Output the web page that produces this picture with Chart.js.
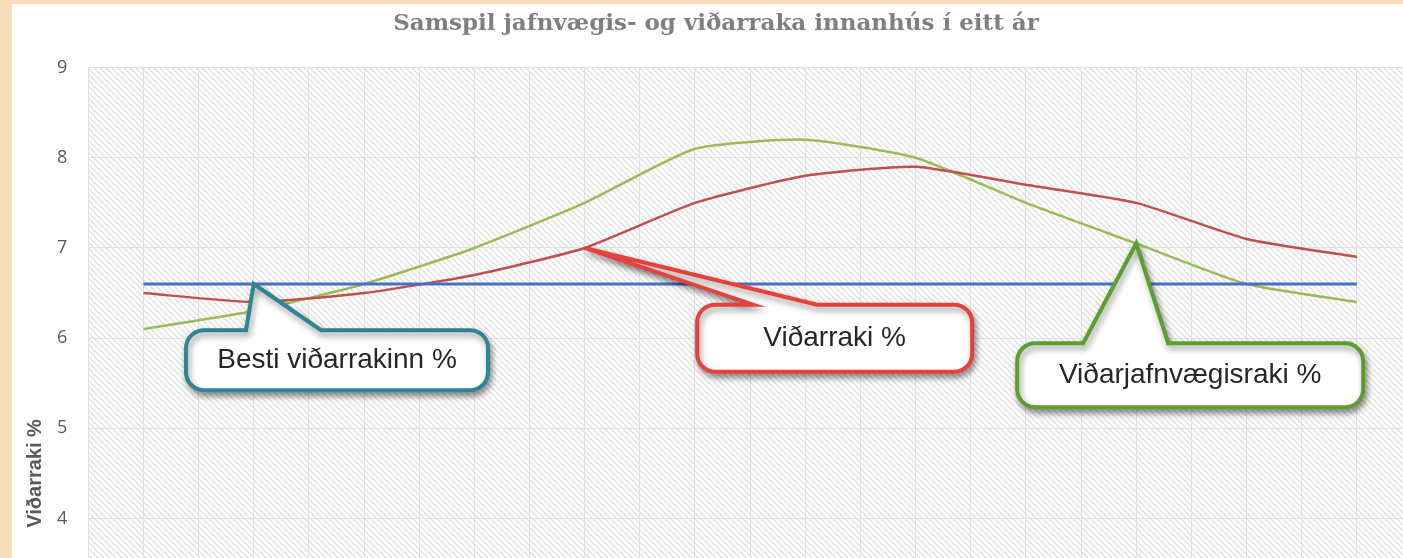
<!DOCTYPE html>
<html>
<head>
<meta charset="utf-8">
<script src="https://cdn.jsdelivr.net/npm/chart.js@4.4.1/dist/chart.umd.min.js"></script>
<style>
  html, body { margin: 0; padding: 0; overflow: hidden; background: #f9deba; }
  body { width: 1403px; height: 558px; position: relative; }
  #wrap { position: absolute; left: 12px; top: 4px; width: 1400px; height: 907px; background: #fff; }
</style>
</head>
<body>
<div id="wrap"><canvas id="myChart"></canvas></div>
<script>
// months of the year (x axis, not visible in the crop)
const months = ['jan', 'feb', 'mar', 'apr', 'maí', 'jún', 'júl', 'ágú', 'sep', 'okt', 'nóv', 'des'];

// series values
const bestiRaki = [6.6, 6.6, 6.6, 6.6, 6.6, 6.6, 6.6, 6.6, 6.6, 6.6, 6.6, 6.6];
const vidarraki = [6.5, 6.4, 6.5, 6.7, 7.0, 7.5, 7.8, 7.9, 7.7, 7.5, 7.1, 6.9];
const jafnvaegisraki = [6.1, 6.3, 6.6, 7.0, 7.5, 8.1, 8.2, 8.0, 7.5, 7.05, 6.6, 6.4];

const yTicks = [0, 1, 2, 3, 4, 5, 6, 7, 8, 9];

function points(values) {
    return values.map((v, i) => ({ x: i, y: v, month: months[i] }));
}

// callouts: tip sits on a data point, box placed in data units
const callouts = [
    { text: 'Besti viðarrakinn %', series: bestiRaki, tipIndex: 1, boxX: 1.755, boxY: 5.756,
      w: 302, h: 60, base: [60, 135], color: '#2f8497' },
    { text: 'Viðarraki %', series: vidarraki, tipIndex: 4, boxX: 6.266, boxY: 6.0,
      w: 275, h: 67, base: [56, 120], color: '#e8403a' },
    { text: 'Viðarjafnvægisraki %', series: jafnvaegisraki, tipIndex: 9, boxX: 9.489, boxY: 5.589,
      w: 346, h: 64, base: [66, 151], color: '#5b9f2e' }
];

function makeHatch() {
    const c = document.createElement('canvas');
    c.width = 6; c.height = 6;
    const g = c.getContext('2d');
    g.fillStyle = '#ffffff';
    g.fillRect(0, 0, 6, 6);
    g.strokeStyle = '#dadada';
    g.lineWidth = 1.2;
    g.beginPath();
    g.moveTo(-1, -1); g.lineTo(7, 7);
    g.moveTo(-1, 5); g.lineTo(1, 7);
    g.moveTo(5, -1); g.lineTo(7, 1);
    g.stroke();
    return c;
}

const hatchBackground = {
    id: 'hatchBackground',
    beforeDraw(chart) {
        const { ctx, chartArea } = chart;
        ctx.save();
        ctx.fillStyle = '#ffffff';
        ctx.fillRect(0, 0, chart.width, chart.height);
        ctx.fillStyle = ctx.createPattern(makeHatch(), 'repeat');
        ctx.fillRect(chartArea.left, chartArea.top, chartArea.right - chartArea.left, chartArea.bottom - chartArea.top);
        ctx.restore();
    }
};

function calloutPath(ctx, l, t, r, b, rad, b1, b2, tx, ty) {
    ctx.beginPath();
    ctx.moveTo(l + rad, t);
    ctx.lineTo(b1, t);
    ctx.lineTo(tx, ty);
    ctx.lineTo(b2, t);
    ctx.lineTo(r - rad, t);
    ctx.arcTo(r, t, r, t + rad, rad);
    ctx.lineTo(r, b - rad);
    ctx.arcTo(r, b, r - rad, b, rad);
    ctx.lineTo(l + rad, b);
    ctx.arcTo(l, b, l, b - rad, rad);
    ctx.lineTo(l, t + rad);
    ctx.arcTo(l, t, l + rad, t, rad);
    ctx.closePath();
}

const calloutPlugin = {
    id: 'callouts',
    afterDatasetsDraw(chart) {
        const { ctx } = chart;
        const xs = chart.scales.x, ys = chart.scales.y;
        callouts.forEach(c => {
            const tx = xs.getPixelForValue(c.tipIndex);
            const ty = ys.getPixelForValue(c.series[c.tipIndex]);
            const cx = xs.getPixelForValue(c.boxX);
            const cy = ys.getPixelForValue(c.boxY);
            const l = cx - c.w / 2, r = cx + c.w / 2, t = cy - c.h / 2, b = cy + c.h / 2;
            ctx.save();
            calloutPath(ctx, l, t, r, b, 18, l + c.base[0], l + c.base[1], tx, ty);
            ctx.shadowColor = 'rgba(0,0,0,0.4)';
            ctx.shadowBlur = 6;
            ctx.shadowOffsetX = 2;
            ctx.shadowOffsetY = 4;
            ctx.fillStyle = '#ffffff';
            ctx.fill();
            ctx.lineWidth = 4;
            ctx.lineJoin = 'miter';
            ctx.strokeStyle = c.color;
            ctx.stroke();
            ctx.shadowColor = 'transparent';
            ctx.fillStyle = '#262626';
            ctx.font = '28px "Liberation Sans", Arial, sans-serif';
            ctx.textAlign = 'center';
            ctx.textBaseline = 'middle';
            ctx.fillText(c.text, cx, cy);
            ctx.restore();
        });
    }
};

const ctx = document.getElementById('myChart').getContext('2d');
const chart = new Chart(ctx, {
    type: 'line',
    data: {
        datasets: [{
            label: 'Besti viðarrakinn %',
            data: points(bestiRaki),
            borderColor: '#4472c4',
            borderWidth: 3,
            pointRadius: 0,
            tension: 0
        }, {
            label: 'Viðarraki %',
            data: points(vidarraki),
            borderColor: '#c0504d',
            borderWidth: 2.5,
            pointRadius: 0,
            tension: 0.18
        }, {
            label: 'Viðarjafnvægisraki %',
            data: points(jafnvaegisraki),
            borderColor: '#9bbb59',
            borderWidth: 2.5,
            pointRadius: 0,
            tension: 0.18
        }]
    },
    options: {
        responsive: true,
        maintainAspectRatio: false,
        animation: false,
        layout: { padding: { left: 8, right: 0, top: 0, bottom: 0 } },
        plugins: {
            legend: { display: false },
            tooltip: { enabled: false },
            title: {
                display: true,
                text: 'Samspil jafnvægis- og viðarraka innanhús í eitt ár',
                color: '#7f7f7f',
                font: { family: '"DejaVu Serif", serif', size: 23, weight: 'bold', lineHeight: 1.2 },
                padding: { top: 6, bottom: 30 }
            }
        },
        scales: {
            x: {
                type: 'linear',
                min: -0.5,
                max: 11.5,
                ticks: { display: false, stepSize: 0.5 },
                grid: { color: '#e0e0e0', drawTicks: false },
                border: { display: false }
            },
            y: {
                min: yTicks[0],
                max: yTicks[yTicks.length - 1],
                afterBuildTicks: axis => { axis.ticks = yTicks.map(v => ({ value: v })); },
                ticks: {
                    color: '#595959',
                    padding: 21,
                    font: { family: '"Open Sans", sans-serif', size: 18 }
                },
                grid: { color: '#e0e0e0', drawTicks: false },
                border: { display: false },
                title: {
                    display: true,
                    text: 'Viðarraki %',
                    color: '#595959',
                    font: { family: '"Liberation Sans", Arial, sans-serif', size: 20, weight: 'bold', lineHeight: 1.2 },
                    padding: { top: 3, bottom: -11 }
                }
            }
        }
    },
    plugins: [hatchBackground, calloutPlugin]
});
</script>
</body>
</html>
